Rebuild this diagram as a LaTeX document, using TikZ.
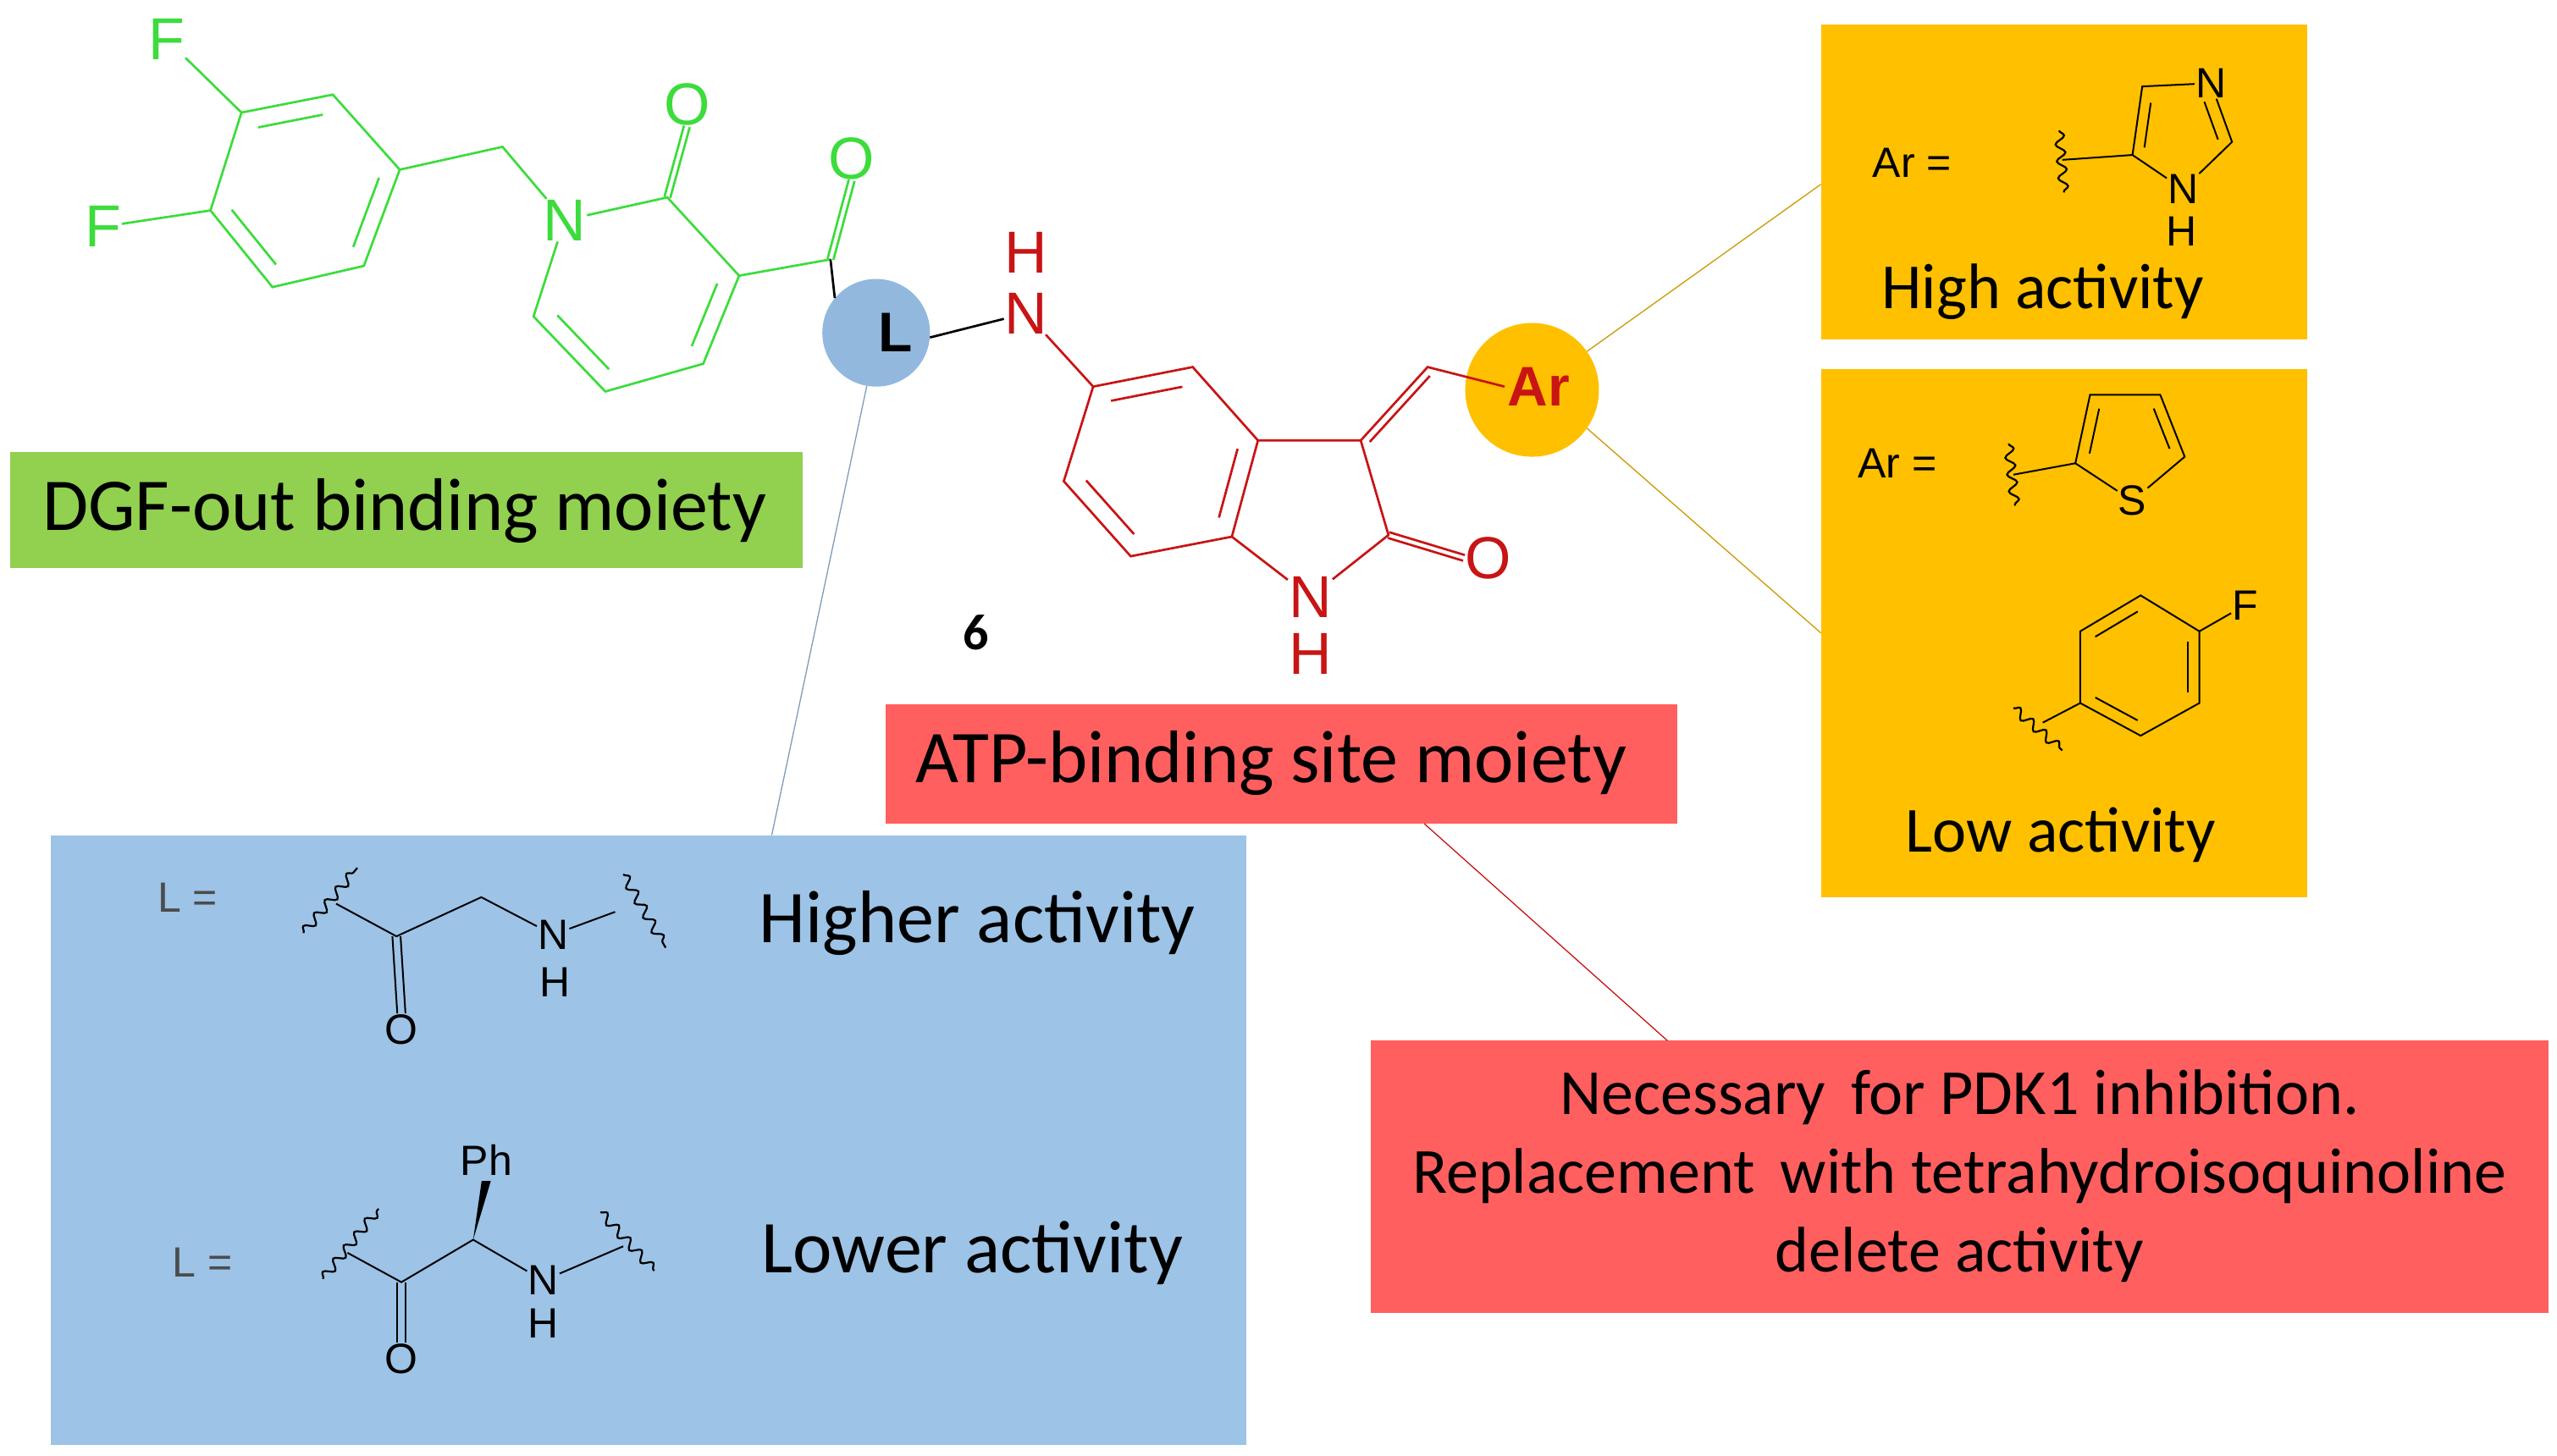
\documentclass[tikz,border=0pt]{standalone}
\usepackage{fontspec}
\setmainfont{Carlito}
\newfontfamily\chem{Liberation Sans}
\usetikzlibrary{calc,decorations.pathmorphing}
\definecolor{gr}{RGB}{60,220,60}
\definecolor{rd}{RGB}{200,20,20}
\definecolor{grbox}{RGB}{146,208,80}
\definecolor{rdbox}{RGB}{255,95,95}
\definecolor{orbox}{RGB}{255,192,0}
\definecolor{blbox}{RGB}{157,195,230}
\definecolor{lcirc}{RGB}{146,184,222}
\begin{document}
\begin{tikzpicture}[x=1.927pt,y=-1.927pt,
  bond/.style={line width=2.7pt},
  bk/.style={line width=2.7pt,black},
  atom/.style={font=\chem\fontsize{70}{70}\selectfont,inner sep=1pt},
  satom/.style={font=\chem\fontsize{50}{50}\selectfont,inner sep=1pt},
  lab/.style={font=\fontsize{88}{92}\selectfont},
  wavy/.style={line width=2.2pt,decorate,decoration={snake,amplitude=5.5pt,segment length=20pt}},
  conn/.style={line width=1.3pt}]
\useasboundingbox (0,0) rectangle (1567.2,892.06);
% boxes
\fill[grbox] (6,277) rectangle (492,348);
\node[lab] (tg) at (248,313) {DGF-out binding moiety};
\fill[rdbox] (543,432) rectangle (1028,505);
\node[lab] (tr) at (779,468) {ATP-binding site moiety};
\fill[blbox] (31,512) rectangle (764,886);
\fill[rdbox] (840,638) rectangle (1562,805);
\node[font=\fontsize{76}{93}\selectfont,align=center] (tr2) at (1201,721) {Necessary\, for PDK1 inhibition.\\Replacement\, with tetrahydroisoquinoline\\delete activity};
\fill[orbox] (1116,15) rectangle (1414,208);
\fill[orbox] (1116,226) rectangle (1414,550);
% connectors
\coordinate (bt) at (473,512);
\coordinate (ot1) at (1116,113);
\coordinate (ot2) at (1116,388);
\coordinate (rb) at (1022,638);
\coordinate (rt) at (873,505);
\node[circle,fill=lcirc,minimum size=66*1.927pt,inner sep=0pt] (L) at (537,204) {};
\node[circle,fill=orbox,minimum size=82*1.927pt,inner sep=0pt] (Ar) at (939,239) {};
\draw[conn,blbox!80!black] (L.-100) -- (bt);
\draw[conn,orbox!80!black] (Ar.35) -- (ot1);
\draw[conn,orbox!80!black] (Ar.-35) -- (ot2);
\draw[conn,rd] (rt) -- (rb);
\node[font=\chem\bfseries\fontsize{66}{66}\selectfont] (Lt) at (549,204) {L};
\node[font=\chem\bfseries\fontsize{66}{66}\selectfont,text=rd] (Art) at (943,237) {Ar};
\node[font=\bfseries\fontsize{60}{60}\selectfont] (six) at (598,388) {6};
% green molecule
\begin{scope}[gr]
\coordinate (g1) at (148,69); \coordinate (g2) at (204,58); \coordinate (g3) at (245,104);
\coordinate (g4) at (223,163); \coordinate (g5) at (167,176); \coordinate (g6) at (129,129);
\coordinate (gc) at (186,117);
\coordinate (c7) at (308,90);
\coordinate (p2) at (409,121); \coordinate (p3) at (453,169); \coordinate (p4) at (431,223);
\coordinate (p5) at (371,240); \coordinate (p6) at (327,194); \coordinate (pc) at (391,181);
\coordinate (c8) at (509,159);
\node[atom,text=gr] (F1) at (102,24) {F};
\node[atom,text=gr] (F2) at (63,139) {F};
\node[atom,text=gr] (N1) at (346,135) {N};
\node[atom,text=gr] (O1) at (421,64) {O};
\node[atom,text=gr] (O2) at (522,97) {O};
\draw[bond] (F1) -- (g1); \draw[bond] (F2) -- (g6);
\draw[bond] (g1)--(g2)--(g3)--(g4)--(g5)--(g6)--cycle;
\draw[bond,shorten <=5pt,shorten >=5pt] ($(g1)!0.2!(gc)$) -- ($(g2)!0.2!(gc)$);
\draw[bond,shorten <=5pt,shorten >=5pt] ($(g3)!0.2!(gc)$) -- ($(g4)!0.2!(gc)$);
\draw[bond,shorten <=5pt,shorten >=5pt] ($(g5)!0.2!(gc)$) -- ($(g6)!0.2!(gc)$);
\draw[bond] (g3) -- (c7) -- (N1);
\draw[bond] (N1) -- (p2) -- (p3) -- (p4) -- (p5) -- (p6) -- (N1);
\draw[bond,shorten <=5pt,shorten >=5pt] ($(p3)!0.2!(pc)$) -- ($(p4)!0.2!(pc)$);
\draw[bond,shorten <=5pt,shorten >=5pt] ($(p5)!0.2!(pc)$) -- ($(p6)!0.2!(pc)$);
\draw[bond] ($(p2)!3.5pt!90:(O1)$) -- ($(O1.south)!3.5pt!-90:(p2)$);
\draw[bond] ($(p2)!3.5pt!-90:(O1)$) -- ($(O1.south)!3.5pt!90:(p2)$);
\draw[bond] (p3) -- (c8);
\draw[bond] ($(c8)!3.5pt!90:(O2)$) -- ($(O2.south)!3.5pt!-90:(c8)$);
\draw[bond] ($(c8)!3.5pt!-90:(O2)$) -- ($(O2.south)!3.5pt!90:(c8)$);
\end{scope}
\draw[bk] (c8) -- (L.140);
% red molecule
\begin{scope}[rd]
\node[atom,text=rd] (NH) at (629,192) {N};
\node[atom,text=rd] (NHh) at (629,155) {H};
\draw[bk] (L.-5) -- (NH);
\coordinate (i5) at (670,237); \coordinate (i4) at (731,225); \coordinate (i3a) at (771,270);
\coordinate (i7a) at (755,329); \coordinate (i7) at (693,341); \coordinate (i6) at (652,295);
\coordinate (ic) at (712,283);
\coordinate (c3) at (834,270); \coordinate (c2) at (851,328);
\coordinate (ch) at (875,225);
\node[atom,text=rd] (N2) at (803,366) {N};
\node[atom,text=rd] (N2h) at (803,401) {H};
\node[atom,text=rd] (O3) at (912,342) {O};
\draw[bond] (NH) -- (i5);
\draw[bond] (i5)--(i4)--(i3a)--(i7a)--(i7)--(i6)--cycle;
\draw[bond,shorten <=5pt,shorten >=5pt] ($(i5)!0.2!(ic)$) -- ($(i4)!0.2!(ic)$);
\draw[bond,shorten <=5pt,shorten >=5pt] ($(i3a)!0.2!(ic)$) -- ($(i7a)!0.2!(ic)$);
\draw[bond,shorten <=5pt,shorten >=5pt] ($(i7)!0.2!(ic)$) -- ($(i6)!0.2!(ic)$);
\draw[bond] (i3a) -- (c3) -- (c2) -- (N2) -- (i7a);
\draw[bond] ($(c2)!3.5pt!90:(O3)$) -- ($(O3.west)!3.5pt!-90:(c2)$);
\draw[bond] ($(c2)!3.5pt!-90:(O3)$) -- ($(O3.west)!3.5pt!90:(c2)$);
\draw[bond] (c3) -- (ch) -- (Art.west);
\draw[bond,shorten <=6pt,shorten >=6pt] ($(c3)!9pt!-90:(ch)$) -- ($(ch)!9pt!90:(c3)$);
\end{scope}
% orange box 1: imidazole
\node[satom] (ar1) at (1172,100) {Ar =};
\coordinate (m5) at (1307,95); \coordinate (m4) at (1313,53); \coordinate (m2) at (1368,87);
\coordinate (mc) at (1335,85);
\node[satom] (mN3) at (1355,51) {N};
\node[satom] (mN1) at (1338,116) {N};
\node[satom] (mH) at (1337,142) {H};
\draw[wavy] (1262,80) -- (1265,118);
\coordinate (w1) at (1264,98);
\draw[bk,line width=2pt] (w1) -- (m5) -- (m4) -- (mN3) -- (m2) -- (mN1) -- (m5);
\draw[bk,line width=2pt,shorten <=4pt,shorten >=4pt] ($(m5)!0.25!(mc)$) -- ($(m4)!0.25!(mc)$);
\draw[bk,line width=2pt,shorten <=6pt,shorten >=2pt] ($(mN3)!0.25!(mc)$) -- ($(m2)!0.25!(mc)$);
\node[font=\fontsize{76}{78}\selectfont] (t1) at (1252,179) {High activity};
% orange box 2: thiophene
\node[satom] (ar2) at (1163,284) {Ar =};
\coordinate (t2c) at (1272,284); \coordinate (t3) at (1281,242); \coordinate (t4) at (1324,242);
\coordinate (t5) at (1339,280); \coordinate (tc) at (1305,268);
\node[satom] (S) at (1307,307) {S};
\draw[wavy] (1231,272) -- (1235,310);
\coordinate (w2) at (1234,291);
\draw[bk,line width=2pt] (w2) -- (t2c) -- (t3) -- (t4) -- (t5) -- (S) -- (t2c);
\draw[bk,line width=2pt,shorten <=4pt,shorten >=4pt] ($(t2c)!0.25!(tc)$) -- ($(t3)!0.25!(tc)$);
\draw[bk,line width=2pt,shorten <=4pt,shorten >=4pt] ($(t4)!0.25!(tc)$) -- ($(t5)!0.25!(tc)$);
% fluorophenyl
\coordinate (f1) at (1275,387); \coordinate (f2) at (1312,365); \coordinate (f3) at (1348,387);
\coordinate (f4) at (1348,431); \coordinate (f5) at (1312,451); \coordinate (f6) at (1275,431);
\coordinate (fcn) at (1312,409);
\node[satom] (F3) at (1376,371) {F};
\draw[wavy] (1234,434) -- (1264,460);
\coordinate (w3) at (1252,443);
\draw[bk,line width=2pt] (f1)--(f2)--(f3)--(f4)--(f5)--(f6)--cycle;
\draw[bk,line width=2pt] (f3) -- (F3); \draw[bk,line width=2pt] (f6) -- (w3);
\draw[bk,line width=2pt,shorten <=4pt,shorten >=4pt] ($(f1)!0.2!(fcn)$) -- ($(f2)!0.2!(fcn)$);
\draw[bk,line width=2pt,shorten <=4pt,shorten >=4pt] ($(f3)!0.2!(fcn)$) -- ($(f4)!0.2!(fcn)$);
\draw[bk,line width=2pt,shorten <=4pt,shorten >=4pt] ($(f5)!0.2!(fcn)$) -- ($(f6)!0.2!(fcn)$);
\node[font=\fontsize{76}{78}\selectfont] (t2) at (1263,512) {Low activity};
% blue box linkers
\node[satom,text=black!70] (l1) at (115,550) {L =};
\node[satom,text=black!70] (l2) at (124,774) {L =};
\coordinate (a1) at (206,554); \coordinate (a2) at (243,574); \coordinate (a3) at (295,550);
\node[satom] (aO) at (246,631) {O};
\node[satom] (aN) at (339,573) {N};
\node[satom] (aH) at (340,602) {H};
\coordinate (a4) at (377,559);
\draw[wavy] (186,572) -- (219,532);
\draw[wavy] (382,536) -- (408,581);
\draw[bk,line width=2pt] (a1) -- (a2) -- (a3) -- (aN) -- (a4);
\draw[bk,line width=2pt] ($(a2)+(-2.5,0)$) -- ($(aO.north)+(-2.5,0)$);
\draw[bk,line width=2pt] ($(a2)+(2.5,0)$) -- ($(aO.north)+(2.5,0)$);
\node[font=\fontsize{88}{90}\selectfont] (th) at (599,566) {Higher activity};
\coordinate (b1) at (213,768); \coordinate (b2) at (246,786); \coordinate (b3) at (290,760);
\node[satom] (bO) at (246,833) {O};
\node[satom] (bN) at (333,785) {N};
\node[satom] (bH) at (333,811) {H};
\node[satom] (bPh) at (298,711) {Ph};
\coordinate (b4) at (382,764);
\draw[wavy] (198,784) -- (232,741);
\draw[wavy] (368,743) -- (401,779);
\draw[bk,line width=2pt] (b1) -- (b2) -- (b3) -- (bN) -- (b4);
\draw[bk,line width=2pt] ($(b2)+(-2.5,0)$) -- ($(bO.north)+(-2.5,0)$);
\draw[bk,line width=2pt] ($(b2)+(2.5,0)$) -- ($(bO.north)+(2.5,0)$);
\fill (b3) -- ($(bPh.south)+(-2.8,3)$) -- ($(bPh.south)+(2.8,3)$) -- cycle;
\node[font=\fontsize{88}{90}\selectfont] (tl) at (596,768) {Lower activity};
\end{tikzpicture}
\end{document}
